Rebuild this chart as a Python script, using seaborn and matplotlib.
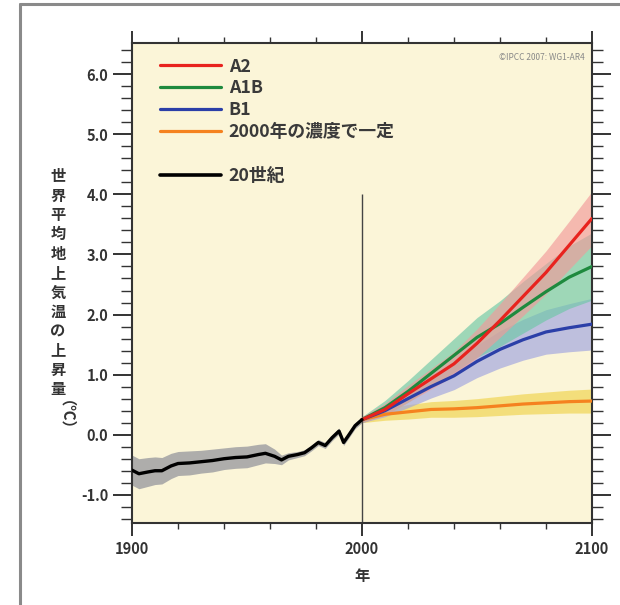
import pandas as pd
import matplotlib.pyplot as plt
import seaborn as sns
from matplotlib.lines import Line2D
from matplotlib.ticker import MultipleLocator

# 20世紀 (観測に基づくモデル再現)
hist_years = [1900, 1903, 1907, 1910, 1913, 1917, 1920, 1925, 1930, 1935, 1940, 1945, 1950, 1955,
              1958, 1962, 1965, 1968, 1972, 1975, 1978, 1981, 1984, 1987, 1990, 1992, 1994, 1997, 2000]
hist_mean = [-0.59, -0.65, -0.62, -0.60, -0.60, -0.52, -0.48, -0.47, -0.45, -0.43, -0.40, -0.38, -0.37, -0.33,
             -0.31, -0.36, -0.42, -0.36, -0.33, -0.30, -0.22, -0.13, -0.18, -0.05, 0.06, -0.13, -0.02, 0.15, 0.25]
hist_sd = [0.25, 0.25, 0.24, 0.23, 0.22, 0.21, 0.20, 0.20, 0.19, 0.19, 0.18, 0.18, 0.18, 0.17,
           0.16, 0.12, 0.08, 0.06, 0.05, 0.05, 0.05, 0.05, 0.05, 0.05, 0.05, 0.05, 0.05, 0.05, 0.05]

# シナリオ (2000-2100)
fut_years = [2000, 2010, 2020, 2030, 2040, 2050, 2060, 2070, 2080, 2090, 2100]
a2_mean = [0.25, 0.42, 0.68, 0.93, 1.18, 1.52, 1.90, 2.30, 2.70, 3.15, 3.60]
a2_sd = [0.05, 0.10, 0.14, 0.17, 0.20, 0.24, 0.28, 0.32, 0.36, 0.40, 0.45]
a1b_mean = [0.25, 0.45, 0.72, 1.02, 1.32, 1.62, 1.85, 2.12, 2.38, 2.62, 2.80]
a1b_sd = [0.05, 0.12, 0.18, 0.23, 0.28, 0.33, 0.38, 0.43, 0.47, 0.52, 0.56]
b1_mean = [0.25, 0.40, 0.60, 0.80, 0.98, 1.22, 1.42, 1.58, 1.71, 1.78, 1.84]
b1_sd = [0.05, 0.10, 0.15, 0.19, 0.23, 0.27, 0.31, 0.34, 0.37, 0.40, 0.43]
const_mean = [0.25, 0.34, 0.38, 0.42, 0.43, 0.45, 0.48, 0.51, 0.53, 0.55, 0.56]
const_sd = [0.05, 0.10, 0.12, 0.13, 0.14, 0.15, 0.16, 0.17, 0.18, 0.19, 0.20]

labels = ["A2", "A1B", "B1", "2000年の濃度で一定", "20世紀"]
line_colors = ["#E8231E", "#1E8A3E", "#2B3FA8", "#F5821F", "#000000"]
band_colors = ["#F29A9A", "#6DC7A6", "#9EA2E0", "#F0D34A", "#A6A6A6"]

sns.set_style("ticks")
plt.rcParams['font.family'] = ['Noto Sans CJK JP', 'DejaVu Sans']

fig = plt.figure(figsize=(6.2, 6.05), dpi=100)
ax = fig.add_axes([132 / 620, 1 - 523 / 605, 460 / 620, 480 / 605])
ax.set_facecolor("#FBF5D8")

series = [(a2_mean, a2_sd), (a1b_mean, a1b_sd), (b1_mean, b1_sd), (const_mean, const_sd)]

# 帯 (±1標準偏差)
hist = pd.DataFrame({"year": hist_years, "mean": hist_mean, "sd": hist_sd})
ax.fill_between(hist["year"], hist["mean"] - hist["sd"], hist["mean"] + hist["sd"],
                color=band_colors[4], lw=0, alpha=0.9, zorder=1)
for i in [3, 2, 1, 0]:
    m, s = series[i]
    lo = [a - b for a, b in zip(m, s)]
    hi = [a + b for a, b in zip(m, s)]
    ax.fill_between(fut_years, lo, hi, color=band_colors[i], lw=0, alpha=0.65, zorder=1)

# 線
for i in [3, 2, 1, 0]:
    sns.lineplot(x=fut_years, y=series[i][0], color=line_colors[i], lw=2.3, ax=ax, zorder=3)
sns.lineplot(data=hist, x="year", y="mean", color="black", lw=2.4, ax=ax, zorder=3)

ax.vlines(2000, -1.5, 4.0, color="#444444", lw=1.0, zorder=2)

ax.set_xlim(1900, 2100)
ax.set_ylim(-1.47, 6.52)
ax.set_xticks([1900, 2000, 2100])
ax.xaxis.set_minor_locator(MultipleLocator(20))
ax.set_yticks([-1, 0, 1, 2, 3, 4, 5, 6])
ax.set_yticklabels(["-1.0", "0.0", "1.0", "2.0", "3.0", "4.0", "5.0", "6.0"])
ax.yaxis.set_minor_locator(MultipleLocator(0.2))
ax.tick_params(which="both", direction="out", top=True, right=True, color="#333333",
               labelcolor="#333333", labelsize=10.5)
ax.tick_params(axis="y", which="major", length=14, width=1.4, pad=3)
ax.tick_params(axis="y", which="minor", length=8, width=1.0)
ax.tick_params(axis="x", which="major", length=9, width=1.4, pad=4)
ax.tick_params(axis="x", which="minor", length=4, width=1.0)
for lab in ax.get_xticklabels() + ax.get_yticklabels():
    lab.set_fontweight("bold")
for sp in ax.spines.values():
    sp.set_color("#333333")
    sp.set_linewidth(1.5)

ax.set_xlabel("年", fontsize=11, color="#333333", fontweight="bold", labelpad=8)
ax.set_ylabel("")

# 縦書きの軸ラベル
ylab = "世界平均地上気温の上昇量"
for k, ch in enumerate(ylab):
    fig.text(58 / 620, 1 - (176 + 19.4 * k) / 605, ch, ha="center", va="center",
             fontsize=11, fontweight="bold", color="#333333")
fig.text(58 / 620, 1 - 423 / 605, "（℃）", ha="center", va="center", rotation=270,
         fontsize=11, fontweight="bold", color="#333333")

# 凡例
handles = [Line2D([], [], color=c, lw=2.3) for c in line_colors[:4]]
handles.append(Line2D([], [], color="none"))
handles.append(Line2D([], [], color="black", lw=2.6))
leg_labels = labels[:4] + [""] + [labels[4]]
ax.legend(handles, leg_labels, loc="upper left", bbox_to_anchor=(0.025, 1.003), frameon=False,
          handlelength=3.45, handletextpad=0.45, labelspacing=0.22,
          prop={"weight": "bold", "size": 12.8})
for t in ax.get_legend().get_texts():
    t.set_color("#3a3a3a")

ax.text(0.985, 0.97, "©IPCC 2007: WG1-AR4", transform=ax.transAxes, ha="right", va="center",
        fontsize=6, color="#888888")

# 外枠
fig.add_artist(Line2D([20 / 620, 20 / 620], [0, 1 - 4 / 605], transform=fig.transFigure,
                      color="#8a8a8a", lw=2.2))
fig.add_artist(Line2D([20 / 620, 1], [1 - 4 / 605, 1 - 4 / 605], transform=fig.transFigure,
                      color="#8a8a8a", lw=2.2))

fig.savefig("out.png", dpi=100, facecolor="white")
